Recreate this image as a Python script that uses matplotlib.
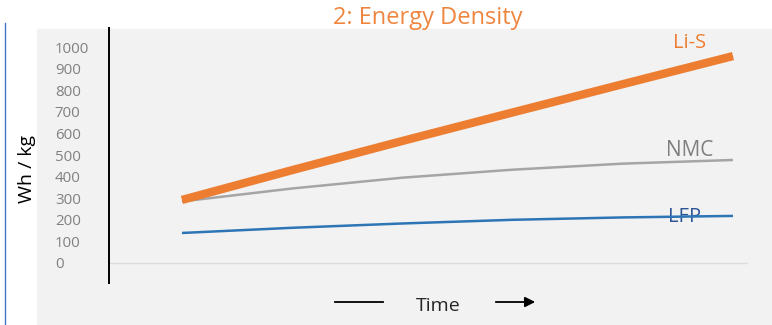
import matplotlib.pyplot as plt
from matplotlib.patches import Rectangle
from matplotlib.lines import Line2D

plt.rcParams['font.family'] = ['Open Sans', 'DejaVu Sans']

# time steps and energy density (Wh/kg) per chemistry
t = [0, 1, 2, 3, 4, 5]
li_s = [292, 430, 565, 697, 828, 958]
nmc = [285, 345, 395, 432, 460, 477]
lfp = [139, 163, 183, 200, 211, 218]
yticks = [0, 100, 200, 300, 400, 500, 600, 700, 800, 900, 1000]

W, H = 772, 325
fig = plt.figure(figsize=(W / 100, H / 100), dpi=100)
fig.patch.set_facecolor('white')

# grey slide panel + thin blue rule on the left
fig.patches.append(Rectangle((37 / W, 0), 1 - 37 / W, (H - 29) / H,
                             transform=fig.transFigure, color='#f2f2f2', zorder=-5))
fig.lines.append(Line2D([5 / W, 5 / W], [0, (H - 23) / H],
                        transform=fig.transFigure, color='#4472c4', lw=1))

ax = fig.add_axes([109 / W, (H - 283) / H, (760 - 109) / W, (283 - 28) / H])
ax.patch.set_alpha(0)
ax.set_xlim(-0.662, 5.245)
ax.set_ylim(-92.6, 1088)

ax.axhline(0, xmin=-0.01, xmax=0.98, color='#dcdcdc', lw=1, zorder=1)
ax.plot(t, lfp, color='#2e75b6', lw=1.8, solid_capstyle='butt', zorder=2)
ax.plot(t, nmc, color='#a5a5a5', lw=1.8, solid_capstyle='butt', zorder=3)
ax.plot(t, li_s, color='#ed7d31', lw=6, solid_capstyle='butt', zorder=4)

ax.text(4.61, 1018, 'Li-S', color='#ed7d31', fontsize=14.5, ha='center', va='center')
ax.text(4.61, 523, 'NMC', color='#7f7f7f', fontsize=15, ha='center', va='center')
ax.text(4.56, 213, 'LFP', color='#2f5597', fontsize=14.5, ha='center', va='center', zorder=1)

for s in ['top', 'right', 'bottom']:
    ax.spines[s].set_visible(False)
ax.spines['left'].set_color('black')
ax.spines['left'].set_linewidth(1.4)
ax.set_xticks([])
ax.set_yticks(yticks)
ax.set_yticklabels([str(v) for v in yticks], ha='left', color='#808080', fontsize=10.8)
ax.tick_params(axis='y', length=0, pad=39)

fig.text(27 / W, 1 - 169 / H, 'Wh / kg', rotation=90, ha='center', va='center',
         fontsize=14, color='black')
fig.text(428 / W, 1 - 18 / H, '2: Energy Density', ha='center', va='center',
         fontsize=17, color='#ef8640')

# "Time ->" caption under the chart
fig.text(438 / W, 1 - 306 / H, 'Time', ha='center', va='center', fontsize=14, color='#262626')
fig.lines.append(Line2D([335 / W, 383 / W], [1 - 302 / H] * 2,
                        transform=fig.transFigure, color='black', lw=1.3))
ax.annotate('', xy=(538 / W, 1 - 302 / H), xytext=(493 / W, 1 - 302 / H),
            xycoords='figure fraction', textcoords='figure fraction', annotation_clip=False,
            arrowprops=dict(arrowstyle='-|>', color='black', lw=1.3, mutation_scale=15))

fig.savefig('out.png', dpi=100)
